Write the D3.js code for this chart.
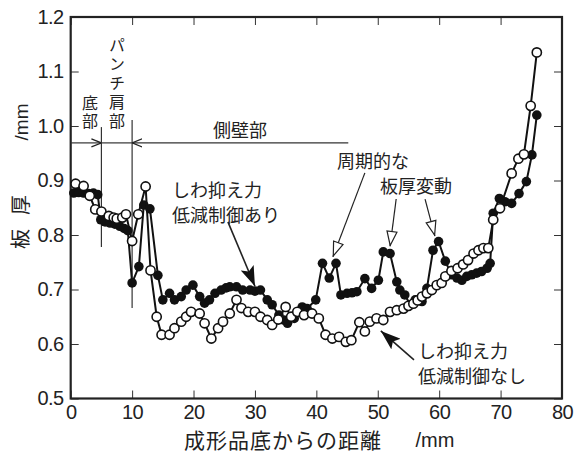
<!DOCTYPE html>
<html>
<head>
<meta charset="utf-8">
<script src="https://cdnjs.cloudflare.com/ajax/libs/d3/7.8.5/d3.min.js"></script>
<style>
  body { margin: 0; background: #fff; }
  text { fill: #222; }
  .jp { font-family: "Noto Sans CJK JP", "Noto Sans", sans-serif; }
  .num { font-family: "Liberation Sans Narrow", "Liberation Sans", Arial, sans-serif; }
</style>
</head>
<body>
<div class="canvas"></div>
<script>
const w = 577;
const h = 459;

// しわ抑え力低減制御あり (filled)
const withCtrlX = [0.5, 1.3, 2.1, 2.9, 3.7, 4.4, 4.9, 5.6, 6.4, 7.2, 8.0, 8.7, 9.3, 10.0, 11.1, 11.9, 12.9,
  14.2, 15.0, 16.1, 16.9, 18.0, 18.8, 19.9, 21.0, 21.8, 22.6, 23.5, 24.5, 25.3, 25.9, 27.0, 28.0, 29.2,
  30.0, 30.9, 32.0, 32.8, 33.9, 34.7, 35.3, 36.4, 37.7, 38.5, 39.9, 41.0, 42.1, 43.2, 44.0, 45.0, 45.8,
  46.6, 47.9, 49.0, 50.1, 50.9, 52.0, 53.1, 53.6, 54.4, 55.3, 56.1, 57.2, 58.0, 59.0, 59.9, 61.0, 62.0,
  62.9, 63.7, 64.5, 65.3, 66.1, 66.9, 67.8, 68.3, 68.8, 69.8, 70.7, 71.8, 73.0, 74.2, 75.1, 75.9];
const withCtrlY = [0.877, 0.878, 0.877, 0.876, 0.877, 0.874, 0.828, 0.824, 0.822, 0.820, 0.816, 0.812, 0.808, 0.712, 0.742, 0.855, 0.848,
  0.726, 0.681, 0.693, 0.681, 0.687, 0.699, 0.708, 0.687, 0.675, 0.681, 0.693, 0.699, 0.703, 0.705, 0.705, 0.699, 0.699,
  0.697, 0.699, 0.681, 0.672, 0.653, 0.644, 0.638, 0.647, 0.668, 0.665, 0.681, 0.748, 0.721, 0.748, 0.690, 0.693, 0.694,
  0.696, 0.720, 0.702, 0.717, 0.769, 0.766, 0.714, 0.699, 0.690, 0.672, 0.681, 0.678, 0.702, 0.772, 0.788, 0.752, 0.727,
  0.721, 0.717, 0.724, 0.727, 0.730, 0.733, 0.739, 0.748, 0.840, 0.867, 0.861, 0.858, 0.876, 0.898, 0.947, 1.020];

// しわ抑え力低減制御なし (open)
const noCtrlX = [0.8, 2.1, 3.1, 4.0, 5.0, 6.2, 7.0, 7.5, 8.4, 9.0, 10.0, 11.0, 12.2, 13.0, 14.0, 14.8,
  16.1, 16.9, 18.0, 18.8, 19.6, 21.0, 21.8, 22.9, 24.0, 24.8, 25.9, 27.0, 27.8, 28.9, 30.0, 30.9, 32.0,
  32.8, 33.8, 35.0, 35.9, 36.9, 38.0, 39.3, 40.4, 41.5, 42.6, 43.7, 44.8, 45.7, 47.0, 47.9, 48.7, 49.8,
  50.9, 52.0, 53.1, 54.2, 55.0, 55.8, 56.5, 57.2, 58.0, 58.8, 59.6, 60.4, 61.0, 62.0, 63.0, 63.9, 64.7,
  65.6, 66.4, 67.2, 68.0, 68.8, 69.9, 71.8, 72.9, 73.8, 74.9, 75.9];
const noCtrlY = [0.894, 0.890, 0.872, 0.847, 0.843, 0.835, 0.832, 0.830, 0.832, 0.838, 0.789, 0.838, 0.889, 0.735, 0.650, 0.617,
  0.617, 0.629, 0.641, 0.650, 0.659, 0.656, 0.638, 0.610, 0.629, 0.641, 0.656, 0.681, 0.666, 0.659, 0.659, 0.650, 0.644,
  0.635, 0.645, 0.668, 0.650, 0.659, 0.653, 0.656, 0.647, 0.617, 0.610, 0.613, 0.604, 0.607, 0.640, 0.623, 0.641, 0.647,
  0.644, 0.659, 0.662, 0.665, 0.670, 0.674, 0.680, 0.687, 0.693, 0.699, 0.708, 0.712, 0.724, 0.734, 0.739, 0.746, 0.754,
  0.766, 0.772, 0.776, 0.776, 0.828, 0.849, 0.913, 0.940, 0.948, 1.037, 1.135];

const xTicks = [0, 10, 20, 30, 40, 50, 60, 70, 80];
const yTicks = [0.5, 0.6, 0.7, 0.8, 0.9, 1.0, 1.1, 1.2];

const x = d3.scaleLinear().domain([0, 80]).range([70.7, 562]);
const y = d3.scaleLinear().domain([0.5, 1.2]).range([398.5, 17]);

const svg = d3.select(".canvas").append("svg")
  .attr("width", w)
  .attr("height", h);

// axes, ticks pointing inward
const fmtY = d => d.toFixed(1);
const gx = svg.append("g").attr("transform", "translate(0," + y(0.5) + ")")
  .call(d3.axisBottom(x).tickValues(xTicks).tickSize(-8).tickPadding(6));
const gy = svg.append("g").attr("transform", "translate(" + x(0) + ",0)")
  .call(d3.axisLeft(y).tickValues(yTicks).tickFormat(fmtY).tickSize(-8).tickPadding(7));
const gt = svg.append("g").attr("transform", "translate(0," + y(1.2) + ")")
  .call(d3.axisTop(x).tickValues(xTicks).tickSize(-8).tickFormat(""));
const gr = svg.append("g").attr("transform", "translate(" + x(80) + ",0)")
  .call(d3.axisRight(y).tickValues(yTicks).tickSize(-8).tickFormat(""));

[gx, gy, gt, gr].forEach(g => {
  g.select(".domain").remove();
  g.selectAll(".tick line").attr("stroke", "#333").attr("stroke-width", 1);
  g.selectAll("text").attr("class", "num").style("font-size", "20px").style("letter-spacing", "-0.5px").attr("fill", "#222");
});

svg.append("rect")
  .attr("x", x(0)).attr("y", y(1.2))
  .attr("width", x(80) - x(0)).attr("height", y(0.5) - y(1.2))
  .attr("fill", "none").attr("stroke", "#222").attr("stroke-width", 2.2);

// axis titles
const yTitle = svg.append("text").attr("class", "jp")
  .attr("transform", "translate(28," + 222 + ") rotate(-90)")
  .attr("text-anchor", "middle").style("font-size", "20px");
yTitle.append("tspan").text("板");
yTitle.append("tspan").attr("dx", 14).text("厚");
svg.append("text").attr("class", "num")
  .attr("transform", "translate(28," + 122 + ") rotate(-90)")
  .attr("text-anchor", "middle").style("font-size", "19px")
  .text("/mm");
svg.append("text").attr("class", "jp")
  .attr("x", 283).attr("y", 448)
  .attr("text-anchor", "middle").style("font-size", "21px").style("letter-spacing", "1px")
  .text("成形品底からの距離");
svg.append("text").attr("class", "num")
  .attr("x", 435).attr("y", 447)
  .attr("text-anchor", "middle").style("font-size", "20px")
  .text("/mm");

// region markers
const defs = svg.append("defs");
defs.append("marker").attr("id", "chev")
  .attr("viewBox", "0 0 10 10").attr("refX", 10).attr("refY", 5)
  .attr("markerWidth", 10).attr("markerHeight", 10).attr("markerUnits", "userSpaceOnUse")
  .attr("orient", "auto")
  .append("path").attr("d", "M0,1 L10,5 L0,9").attr("fill", "none").attr("stroke", "#222").attr("stroke-width", 1.2);
defs.append("marker").attr("id", "solidHead")
  .attr("viewBox", "0 0 20 14").attr("refX", 20).attr("refY", 7)
  .attr("markerWidth", 20).attr("markerHeight", 14).attr("markerUnits", "userSpaceOnUse")
  .attr("orient", "auto")
  .append("path").attr("d", "M0,0 L20,7 L0,14 L4,7 Z").attr("fill", "#111");
defs.append("marker").attr("id", "openHead")
  .attr("viewBox", "0 0 16 12").attr("refX", 16).attr("refY", 6)
  .attr("markerWidth", 16).attr("markerHeight", 12).attr("markerUnits", "userSpaceOnUse")
  .attr("orient", "auto")
  .append("path").attr("d", "M1,1 L15,6 L1,11 Z").attr("fill", "#fff").attr("stroke", "#222").attr("stroke-width", 1.2);

const ann = svg.append("g").attr("stroke", "#333").attr("stroke-width", 1.2);
ann.append("line").attr("x1", x(5)).attr("x2", x(5)).attr("y1", y(0.998)).attr("y2", y(0.778));
ann.append("line").attr("x1", x(10)).attr("x2", x(10)).attr("y1", y(1.011)).attr("y2", y(0.666));
ann.append("line").attr("x1", x(0)).attr("x2", x(5)).attr("y1", y(0.969)).attr("y2", y(0.969)).attr("marker-end", "url(#chev)");
ann.append("line").attr("x1", x(5)).attr("x2", x(10)).attr("y1", y(0.969)).attr("y2", y(0.969));
ann.append("line").attr("x1", x(45.2)).attr("x2", x(10)).attr("y1", y(0.969)).attr("y2", y(0.969)).attr("marker-end", "url(#chev)");

// vertical (tategaki) labels
function vText(str, cx, top, gap) {
  svg.append("text").attr("class", "jp")
    .attr("x", cx).attr("y", top)
    .style("writing-mode", "vertical-rl")
    .style("font-size", "16px")
    .style("letter-spacing", gap + "px")
    .text(str);
}
vText("底部", 90, 95, 2);
vText("パンチ肩部", 117, 37, 3);

svg.append("text").attr("class", "jp").attr("x", 240).attr("y", 137)
  .attr("text-anchor", "middle").style("font-size", "18px").text("側壁部");

// multi-line notes: one text each, lines as tspans
const notes = [
  { lines: ["しわ抑え力", "低減制御あり"], x: 172, y: 197, dx: [0, 0] },
  { lines: ["周期的な", "板厚変動"], x: 337, y: 168, dx: [0, 43] },
  { lines: ["しわ抑え力", "低減制御なし"], x: 418, y: 358, dx: [0, 0] }
];
notes.forEach(n => {
  const t = svg.append("text").attr("class", "jp")
    .attr("x", n.x).attr("y", n.y).style("font-size", "18px");
  n.lines.forEach((s, i) => {
    t.append("tspan")
      .attr("x", n.x + n.dx[i])
      .attr("y", n.y + i * 25)
      .text(s);
  });
});

// pointer arrows (data coordinates)
const arrows = [
  { x1: 25.6, y1: 0.824, x2: 30.0, y2: 0.706, head: "solidHead", sw: 1.6 },
  { x1: 55.9, y1: 0.571, x2: 50.5, y2: 0.624, head: "solidHead", sw: 1.6 },
  { x1: 47.9, y1: 0.914, x2: 42.7, y2: 0.760, head: "openHead", sw: 1.2 },
  { x1: 53.0, y1: 0.866, x2: 52.0, y2: 0.779, head: "openHead", sw: 1.2 },
  { x1: 57.7, y1: 0.866, x2: 59.3, y2: 0.798, head: "openHead", sw: 1.2 }
];
svg.selectAll("line.arr").data(arrows).enter().append("line")
  .attr("class", "arr")
  .attr("x1", d => x(d.x1)).attr("y1", d => y(d.y1))
  .attr("x2", d => x(d.x2)).attr("y2", d => y(d.y2))
  .attr("stroke", "#222").attr("stroke-width", d => d.sw)
  .attr("marker-end", d => "url(#" + d.head + ")");

// series
const line = d3.line().x(d => x(d[0])).y(d => y(d[1]));
const withCtrl = withCtrlX.map((v, i) => [v, withCtrlY[i]]);
const noCtrl = noCtrlX.map((v, i) => [v, noCtrlY[i]]);

svg.append("path").datum(withCtrl).attr("d", line)
  .attr("fill", "none").attr("stroke", "#111").attr("stroke-width", 2);
svg.append("g").selectAll("circle").data(withCtrl).enter().append("circle")
  .attr("cx", d => x(d[0])).attr("cy", d => y(d[1])).attr("r", 4.8)
  .attr("fill", "#111");

svg.append("path").datum(noCtrl).attr("d", line)
  .attr("fill", "none").attr("stroke", "#111").attr("stroke-width", 2);
svg.append("g").selectAll("circle").data(noCtrl).enter().append("circle")
  .attr("cx", d => x(d[0])).attr("cy", d => y(d[1])).attr("r", 4.6)
  .attr("fill", "#fff").attr("stroke", "#111").attr("stroke-width", 1.6);
</script>
</body>
</html>
